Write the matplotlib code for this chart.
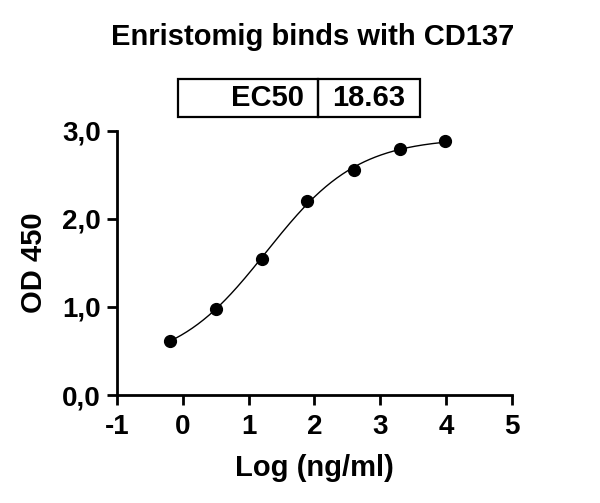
import numpy as np
import matplotlib
matplotlib.use('Agg')
import matplotlib.pyplot as plt
from matplotlib.patches import Rectangle

plt.rcParams['font.family'] = ['Liberation Sans', 'DejaVu Sans']
plt.rcParams['font.weight'] = 'bold'
plt.rcParams['axes.unicode_minus'] = False

# data
log_conc = [-0.19, 0.50, 1.20, 1.89, 2.60, 3.30, 3.99]
od450 = [0.61, 0.98, 1.55, 2.20, 2.56, 2.79, 2.88]
ec50 = 18.63

title = 'Enristomig binds with CD137'
xticks = [-1, 0, 1, 2, 3, 4, 5]
yticks = [0.0, 1.0, 2.0, 3.0]
ytick_labels = ['0,0', '1,0', '2,0', '3,0']

x = np.array(log_conc)
y = np.array(od450)
log_ec50 = np.log10(ec50)


# 4PL fit with logEC50 fixed; bottom/top solved linearly for each hill slope
def sig(xx, hill):
    return 1.0 / (1.0 + 10 ** ((log_ec50 - xx) * hill))

best = None
for hill in np.linspace(0.3, 2.0, 400):
    s = sig(x, hill)
    A = np.column_stack([1 - s, s])
    coef, res, _, _ = np.linalg.lstsq(A, y, rcond=None)
    err = np.sum((A @ coef - y) ** 2)
    if best is None or err < best[0]:
        best = (err, hill, coef)
_, hill, (bottom, top) = best

xs = np.linspace(x.min(), x.max(), 300)
ys = bottom + (top - bottom) * sig(xs, hill)

fig = plt.figure(figsize=(6, 5.03), dpi=100)
ax = fig.add_axes([0.195, 0.2147, 0.658, 0.525])

ax.plot(xs, ys, color='black', lw=1.0)
ax.plot(x, y, 'o', color='black', markersize=8.5)

ax.set_xlim(-1, 5)
ax.set_ylim(0, 3)
ax.set_xticks(xticks)
ax.set_yticks(yticks)
ax.set_yticklabels(ytick_labels)
for s in ['top', 'right']:
    ax.spines[s].set_visible(False)
for s in ['left', 'bottom']:
    ax.spines[s].set_linewidth(2.0)
ax.tick_params(width=2.0, length=7.5, labelsize=20)
ax.tick_params(axis='x', pad=6)
ax.tick_params(axis='y', pad=4)
for lab in ax.get_xticklabels() + ax.get_yticklabels():
    lab.set_fontweight('bold')
for line in ax.get_xticklines() + ax.get_yticklines():
    line.set_clip_on(False)

ax.set_xlabel('Log (ng/ml)', fontsize=21, fontweight='bold', labelpad=10)
ax.set_ylabel('OD 450', fontsize=21, fontweight='bold', labelpad=10)

fig.text(0.521, 0.926, title, ha='center', va='center', fontsize=21, fontweight='bold')

# EC50 table box
W, H = 600, 503
x0, x1, x2 = 178, 318, 420
yt, yb = 79, 117
for a, b in [(x0, x1), (x1, x2)]:
    fig.patches.append(Rectangle((a / W, 1 - yb / H), (b - a) / W, (yb - yt) / H,
                                 transform=fig.transFigure, fill=False,
                                 lw=1.6, edgecolor='black'))
yc = 1 - (yt + yb) / 2 / H
fig.text((x1 - 14) / W, yc, 'EC50', ha='right', va='center', fontsize=21, fontweight='bold')
fig.text((x2 - 15) / W, yc, f'{ec50:.2f}', ha='right', va='center', fontsize=21, fontweight='bold')

fig.savefig('out.png', dpi=100)
